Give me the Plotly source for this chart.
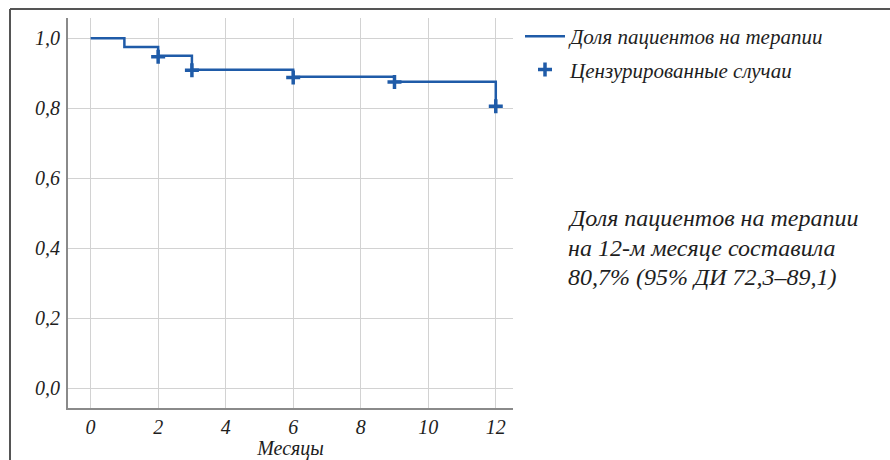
import plotly.graph_objects as go

# Data
months = [0, 1, 2, 3, 6, 9, 12]
share_on_therapy = [1.0, 0.975, 0.95, 0.91, 0.89, 0.876, 0.807]
censor_months = [2, 3, 6, 9, 12]
censor_values = [0.947, 0.909, 0.888, 0.875, 0.806]
x_ticks = [0, 2, 4, 6, 8, 10, 12]
y_ticks = [0.0, 0.2, 0.4, 0.6, 0.8, 1.0]
y_tick_labels = ["0,0", "0,2", "0,4", "0,6", "0,8", "1,0"]
note_lines = [
    "Доля пациентов на терапии",
    "на 12-м месяце составила",
    "80,7% (95% ДИ 72,3–89,1)",
]

blue = "#1f5ba8"
serif = "Liberation Serif"
ink = "#1e1e1e"

fig = go.Figure()
fig.add_trace(go.Scatter(
    x=months, y=share_on_therapy, mode="lines", line_shape="hv",
    line=dict(color=blue, width=2.5), legendgroup="a",
    name="Доля пациентов на терапии",
))
fig.add_trace(go.Scatter(
    x=censor_months, y=censor_values, mode="markers", legendgroup="b",
    marker=dict(symbol="cross-thin", size=10, line=dict(color=blue, width=3.5), color=blue),
    name="Цензурированные случаи",
))

W, H = 890, 460
L, R, T, B = 68, 377, 18, 52
pw, ph = W - L - R, H - T - B

def px_x(p):
    return (p - L) / pw

def px_y(p):
    return (H - B - p) / ph

annotations = []
for i, line in enumerate(note_lines):
    annotations.append(dict(
        xref="paper", yref="paper", x=px_x(566), y=px_y(218 + 29.5 * i),
        xanchor="left", yanchor="middle", align="left", showarrow=False,
        text=line, font=dict(family=serif, size=24, color=ink, style="italic"),
    ))

fig.update_layout(
    width=W, height=H,
    margin=dict(l=L, r=R, t=T, b=B, autoexpand=False),
    paper_bgcolor="white", plot_bgcolor="white",
    font=dict(family=serif, size=20, color=ink, style="italic"),
    showlegend=True,
    legend=dict(
        x=px_x(520), y=px_y(16), xanchor="left", yanchor="top",
        font=dict(family=serif, size=21, color=ink, style="italic"),
        bgcolor="rgba(0,0,0,0)", tracegroupgap=3, itemwidth=40,
        traceorder="grouped",
    ),
    xaxis=dict(
        range=[-0.67, 12.51], tickvals=x_ticks, showgrid=True, automargin=False,
        gridcolor="#d2d2d2", gridwidth=1.2, zeroline=False,
        showline=True, linecolor="#8a8a8a", linewidth=2,
        ticks="", ticklabelstandoff=0,
        title=dict(text="Месяцы", standoff=6, font=dict(family=serif, size=20, color=ink, style="italic")),
        tickfont=dict(family=serif, size=20, color=ink, style="italic"),
    ),
    yaxis=dict(
        range=[-0.056, 1.058], tickvals=y_ticks, ticktext=y_tick_labels, automargin=False,
        showgrid=True, gridcolor="#d2d2d2", gridwidth=1.2, zeroline=False,
        showline=True, linecolor="#8a8a8a", linewidth=2, ticks="", ticklabelstandoff=2,
        tickfont=dict(family=serif, size=20, color=ink, style="italic"),
    ),
    annotations=annotations,
    shapes=[
        dict(type="line", xref="paper", yref="paper", x0=px_x(10), x1=px_x(10),
             y0=px_y(9), y1=px_y(470), line=dict(color="#555555", width=2)),
        dict(type="line", xref="paper", yref="paper", x0=px_x(10), x1=px_x(900),
             y0=px_y(9), y1=px_y(9), line=dict(color="#555555", width=2)),
    ],
)

fig.write_html("out.html", config={"displayModeBar": False},
               post_script="document.body.style.margin='0';")
